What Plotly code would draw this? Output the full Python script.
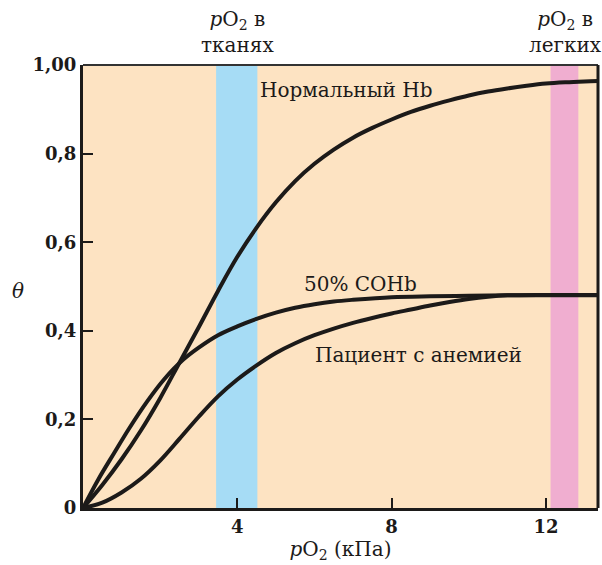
import plotly.graph_objects as go

# Oxygen partial pressure (kPa) and saturation θ for each curve
normal_x = [0, 0.5, 1.0, 1.5, 2.0, 2.5, 3.0, 3.5, 4.0, 4.5, 5.0, 5.5, 6.0, 6.5, 7.0, 7.5,
            8.0, 8.5, 9.0, 9.5, 10.0, 10.5, 11.0, 11.5, 12.0, 12.5, 13.0, 13.35]
normal_y = [0, 0.052, 0.11, 0.175, 0.248, 0.328, 0.408, 0.49, 0.567, 0.633, 0.69, 0.738, 0.777,
            0.809, 0.836, 0.858, 0.877, 0.894, 0.908, 0.92, 0.931, 0.94, 0.947, 0.953, 0.958,
            0.961, 0.963, 0.964]

coh_x = [0, 0.4, 0.8, 1.2, 1.66, 2.1, 2.6, 3.0, 3.5, 4.0, 4.5, 5.0, 5.5, 6.0, 6.5, 7.0,
         8.0, 9.0, 10.0, 11.0, 12.0, 13.35]
coh_y = [0, 0.065, 0.123, 0.18, 0.24, 0.29, 0.335, 0.362, 0.39, 0.41, 0.427, 0.441, 0.452,
         0.46, 0.466, 0.47, 0.476, 0.478, 0.479, 0.48, 0.48, 0.48]

anemia_x = [0, 0.5, 1.0, 1.5, 2.0, 2.5, 3.0, 3.5, 4.0, 4.5, 5.0, 5.5, 6.0, 6.5, 7.0, 7.5,
            8.0, 8.5, 9.0, 9.5, 10.0, 10.5, 11.0, 12.0, 13.35]
anemia_y = [0, 0.012, 0.035, 0.066, 0.107, 0.156, 0.206, 0.252, 0.29, 0.322, 0.35, 0.372,
            0.39, 0.405, 0.418, 0.429, 0.439, 0.448, 0.457, 0.465, 0.472, 0.477, 0.48, 0.481,
            0.481]

# Highlighted pO2 ranges: tissues and lungs
tissue_band = [3.45, 4.52]
lung_band = [12.12, 12.84]

x_ticks = [4, 8, 12]
x_ticktext = ["4", "8", "12"]
y_ticks = [0, 0.2, 0.4, 0.6, 0.8, 1.0]
y_ticktext = ["0", "0,2", "0,4", "0,6", "0,8", "1,00"]

SERIF = "DejaVu Serif"
INK = "#1c1a19"

fig = go.Figure()

for xs, ys in [(normal_x, normal_y), (coh_x, coh_y), (anemia_x, anemia_y)]:
    fig.add_trace(go.Scatter(
        x=xs, y=ys, mode="lines",
        line=dict(color=INK, width=4, shape="spline", smoothing=1.0),
        hoverinfo="skip", showlegend=False,
    ))

shapes = [
    dict(type="rect", xref="x", yref="paper", x0=tissue_band[0], x1=tissue_band[1],
         y0=0, y1=1, fillcolor="#a6dcf5", line_width=0, layer="below"),
    dict(type="rect", xref="x", yref="paper", x0=lung_band[0], x1=lung_band[1],
         y0=0, y1=1, fillcolor="#f0aed0", line_width=0, layer="below"),
    # frame: thin top edge, heavier right edge
    dict(type="line", xref="paper", yref="paper", x0=0, x1=1, y0=1, y1=1,
         line=dict(color="#333", width=2)),
    dict(type="line", xref="paper", yref="paper", x0=1, x1=1, y0=0, y1=1,
         line=dict(color=INK, width=3)),
]

LABEL = dict(family=SERIF, size=20, color=INK)

annotations = [
    dict(x=4.54, y=0.943, xref="x", yref="y", text="Нормальный Hb", showarrow=False,
         xanchor="left", yanchor="middle", font=LABEL),
    dict(x=7.2, y=0.505, xref="x", yref="y", text="50% COHb", showarrow=False,
         xanchor="center", yanchor="middle", font=LABEL),
    dict(x=5.95, y=0.345, xref="x", yref="y", text="Пациент с анемией", showarrow=False,
         xanchor="left", yanchor="middle", font=LABEL),
    dict(x=4.0, y=1.0, xref="x", yref="paper", yshift=6, text="<i>p</i>O<sub>2</sub> в<br>тканях",
         showarrow=False, xanchor="center", yanchor="bottom", font=LABEL),
    dict(x=12.5, y=1.0, xref="x", yref="paper", yshift=6, text="<i>p</i>O<sub>2</sub> в<br>легких",
         showarrow=False, xanchor="center", yanchor="bottom", font=LABEL),
    dict(x=-0.126, y=0.49, xref="paper", yref="paper", text="<i>θ</i>", showarrow=False,
         xanchor="center", yanchor="middle", font=LABEL),
]

fig.update_layout(
    width=602, height=565,
    margin=dict(l=83, r=4, t=65, b=57),
    paper_bgcolor="white",
    plot_bgcolor="#fde3c2",
    shapes=shapes,
    annotations=annotations,
    xaxis=dict(
        range=[0, 13.35], tickvals=x_ticks, ticktext=x_ticktext,
        ticks="inside", ticklen=10, tickwidth=2, tickcolor=INK,
        showline=True, linewidth=3, linecolor=INK, showgrid=False, zeroline=False,
        tickfont=dict(family=SERIF, size=18, color=INK, weight="bold"),
        title=dict(text="<i>p</i>O<sub>2</sub> (кПа)", standoff=6, font=LABEL),
    ),
    yaxis=dict(
        range=[0, 1.0], tickvals=y_ticks, ticktext=y_ticktext,
        ticks="inside", ticklen=10, tickwidth=2, tickcolor=INK,
        showline=True, linewidth=3, linecolor=INK, showgrid=False, zeroline=False,
        tickfont=dict(family=SERIF, size=18, color=INK, weight="bold"),
    ),
)

fig.write_html("out.html")
